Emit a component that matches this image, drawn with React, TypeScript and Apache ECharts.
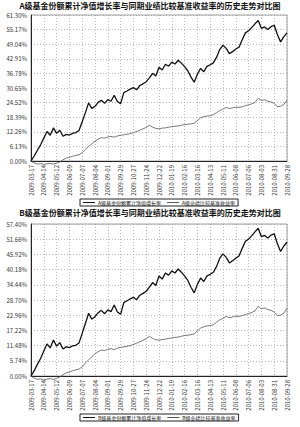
import React, { useEffect, useRef } from "react";
import * as echarts from "echarts";

const dates = [
  "2009-03-17","2009-03-24","2009-03-31","2009-04-07","2009-04-14","2009-04-21","2009-04-28","2009-05-05","2009-05-12","2009-05-19",
  "2009-05-26","2009-06-02","2009-06-09","2009-06-16","2009-06-23","2009-06-30","2009-07-07","2009-07-14","2009-07-21","2009-07-28",
  "2009-08-04","2009-08-11","2009-08-18","2009-08-25","2009-09-01","2009-09-08","2009-09-15","2009-09-22","2009-09-29","2009-10-06",
  "2009-10-13","2009-10-20","2009-10-27","2009-11-03","2009-11-10","2009-11-17","2009-11-24","2009-12-01","2009-12-08","2009-12-15",
  "2009-12-22","2009-12-29","2010-01-05","2010-01-12","2010-01-19","2010-01-26","2010-02-02","2010-02-09","2010-02-16","2010-02-23",
  "2010-03-02","2010-03-09","2010-03-16","2010-03-23","2010-03-30","2010-04-06","2010-04-13","2010-04-20","2010-04-27","2010-05-04",
  "2010-05-11","2010-05-18","2010-05-25","2010-06-01","2010-06-08","2010-06-15","2010-06-22","2010-06-29","2010-07-06","2010-07-13",
  "2010-07-20","2010-07-27","2010-08-03","2010-08-10","2010-08-17","2010-08-24","2010-08-31","2010-09-07","2010-09-14","2010-09-21",
  "2010-09-28",
];

const navA = [
  0.0, 2.1, 4.5, 6.8, 9.6, 12.4, 10.8, 13.9, 11.6, 12.9,
  10.4, 11.2, 10.9, 11.6, 11.9, 12.8, 16.5, 20.3, 24.4, 22.1,
  23.0, 24.6, 25.5, 24.2, 25.8, 25.1, 27.6, 25.0, 24.1, 28.7,
  29.4, 30.2, 30.8, 29.9, 31.7, 32.4, 33.3, 34.9, 36.8, 35.7,
  39.4, 38.2, 40.6, 39.8, 41.5, 40.7, 42.3, 41.1, 39.6, 37.9,
  35.2, 33.1, 36.4, 38.9, 37.5, 39.7, 40.4, 41.2, 43.6, 46.9,
  48.6, 47.3, 45.1, 45.9, 47.0, 47.8, 50.9, 53.8, 54.7, 56.1,
  57.6, 59.0, 55.7, 56.3, 55.2, 56.4, 57.0, 53.1, 50.0, 52.2,
  53.8,
];

const benchA = [
  0.0, -0.8, -1.3, -1.1, -1.4, -1.2, -1.0, -1.3, -0.9, -0.4,
  0.5, 1.2, 1.5, 2.0, 2.3, 2.6, 3.5, 4.9, 6.1, 7.2,
  8.4, 9.2, 9.8, 9.6, 10.1, 10.3, 10.0, 10.5, 10.8, 11.0,
  11.2, 11.5, 11.9, 12.4, 12.9, 13.5, 14.1, 15.0, 14.2, 13.7,
  13.5, 13.8, 13.9, 14.2, 14.4, 14.6, 14.7, 15.0, 15.3, 15.4,
  15.6, 15.9, 17.0, 18.1, 18.6, 18.9, 19.0, 19.4, 20.3, 21.2,
  21.8, 22.5, 22.0, 22.3, 22.6, 22.5, 22.8, 23.2, 23.6, 24.0,
  24.6, 26.3, 25.4, 25.7, 25.1, 24.8, 24.2, 22.8, 23.0, 23.7,
  25.6,
];

const navB = [
  0.0, 2.0, 4.4, 6.6, 9.4, 12.1, 10.6, 13.6, 11.3, 12.6,
  10.2, 11.0, 10.7, 11.4, 11.6, 12.5, 16.1, 19.8, 23.7, 21.5,
  22.4, 23.9, 24.8, 23.5, 25.0, 24.3, 26.8, 24.2, 23.3, 27.7,
  28.4, 29.1, 29.7, 28.8, 30.5, 31.2, 32.0, 33.6, 35.3, 34.2,
  37.8, 36.6, 38.9, 38.1, 39.7, 38.9, 40.4, 39.2, 37.8, 36.1,
  33.5, 31.4, 34.6, 37.0, 35.7, 37.8, 38.4, 39.2, 41.4, 44.5,
  46.1, 44.8, 42.7, 43.5, 44.5, 45.3, 48.2, 50.9, 51.7, 53.0,
  54.4, 55.8, 52.6, 53.1, 52.1, 53.2, 53.7, 49.9, 47.0, 49.1,
  50.5,
];

const benchB = benchA;

const titleA = "A级基金份额累计净值增长率与同期业绩比较基准收益率的历史走势对比图";
const titleB = "B级基金份额累计净值增长率与同期业绩比较基准收益率的历史走势对比图";
const namesA = ["A级基金份额累计净值增长率", "A级业绩比较基准收益率"];
const namesB = ["B级基金份额累计净值增长率", "B级业绩比较基准收益率"];
const yA = { max: 61.3, interval: 6.13 };
const yB = { max: 57.4, interval: 5.74 };

export default function App() {
  const ref = useRef<HTMLDivElement>(null);
  useEffect(() => {
    document.body.style.margin = "0";
    const chart = echarts.init(ref.current!, null, { renderer: "svg" });
    const font = "'Noto Sans CJK SC', sans-serif";
    const xAxis = (gi: number) => ({
      type: "category",
      gridIndex: gi,
      data: dates,
      boundaryGap: false,
      axisLine: { lineStyle: { color: "#222", width: 1 } },
      axisTick: { show: false },
      axisLabel: {
        rotate: 90,
        interval: 3,
        fontSize: 6,
        color: "#333",
        fontFamily: font,
        margin: 4,
      },
      splitLine: { show: true, interval: 3, lineStyle: { color: "#999", type: [1, 2], width: 0.7 } },
    });
    const yAxis = (gi: number, cfg: { max: number; interval: number }) => ({
      type: "value",
      gridIndex: gi,
      min: 0,
      max: cfg.max,
      interval: cfg.interval,
      axisLine: { show: true, lineStyle: { color: "#222", width: 1 } },
      axisTick: { show: false },
      axisLabel: {
        fontSize: 6,
        color: "#333",
        fontFamily: font,
        margin: 4,
        formatter: (v: number) => v.toFixed(2) + "%",
      },
      splitLine: { show: true, lineStyle: { color: "#999", type: [1, 2], width: 0.7 } },
    });
    const legend = (names: string[], top: number) => ({
      data: names.map((n) => ({ name: n, icon: "rect" })),
      top,
      left: 80,
      orient: "horizontal",
      itemWidth: 12,
      itemHeight: 1,
      itemGap: 6,
      padding: [1, 3, 1, 3],
      borderColor: "#222",
      borderWidth: 1,
      textStyle: { fontSize: 5, color: "#111", fontFamily: font, padding: [0, 0, 0, -2] },
    });
    const navSeries = (name: string, data: number[], gi: number) => ({
      name,
      type: "line",
      xAxisIndex: gi,
      yAxisIndex: gi,
      data,
      symbol: "none",
      clip: false,
      lineStyle: { color: "#111", width: 1.3 },
      itemStyle: { color: "#111" },
    });
    const benchSeries = (name: string, data: number[], gi: number) => ({
      name,
      type: "line",
      xAxisIndex: gi,
      yAxisIndex: gi,
      data,
      symbol: "none",
      clip: false,
      lineStyle: { color: "#555", width: 0.8 },
      itemStyle: { color: "#555" },
    });
    chart.setOption({
      animation: false,
      backgroundColor: "#fff",
      title: [
        { text: titleA, left: "center", top: 0, padding: 0, textStyle: { fontSize: 8, lineHeight: 10, fontWeight: "bold", color: "#111", fontFamily: font } },
        { text: titleB, left: "center", top: 207, padding: 0, textStyle: { fontSize: 8, lineHeight: 10, fontWeight: "bold", color: "#111", fontFamily: font } },
      ],
      legend: [legend(namesA, 199), legend(namesB, 414)],
      grid: [
        { left: 31, top: 15, width: 256, height: 146, show: true, borderColor: "#888", borderWidth: 0.8 },
        { left: 31, top: 224, width: 256, height: 152, show: true, borderColor: "#888", borderWidth: 0.8 },
      ],
      xAxis: [xAxis(0), xAxis(1)],
      yAxis: [yAxis(0, yA), yAxis(1, yB)],
      series: [
        navSeries(namesA[0], navA, 0),
        benchSeries(namesA[1], benchA, 0),
        navSeries(namesB[0], navB, 1),
        benchSeries(namesB[1], benchB, 1),
      ],
    });
    return () => chart.dispose();
  }, []);
  return <div ref={ref} style={{ width: 300, height: 427 }} />;
}
